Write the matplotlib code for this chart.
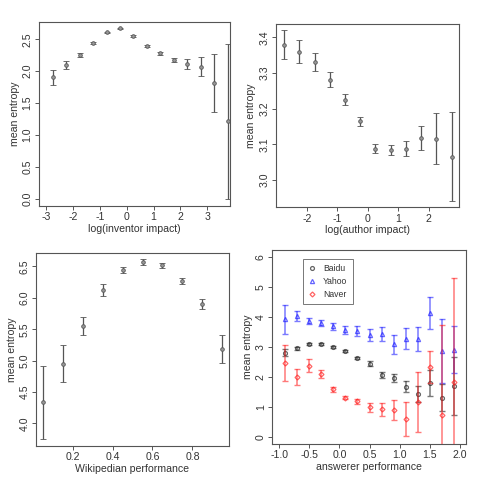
import matplotlib
matplotlib.use('Agg')
import matplotlib.pyplot as plt

plt.rcParams['font.family'] = ['Liberation Sans', 'DejaVu Sans']
plt.rcParams['axes.unicode_minus'] = False

# panel 1: inventor impact
x_inv = [-2.75, -2.25, -1.75, -1.25, -0.75, -0.25, 0.25, 0.75, 1.25, 1.75, 2.25, 2.75, 3.25, 3.75]
m_inv = [1.905, 2.10, 2.25, 2.44, 2.61, 2.67, 2.55, 2.395, 2.28, 2.17, 2.11, 2.07, 1.81, 1.21]
e_inv = [0.115, 0.06, 0.03, 0.012, 0.012, 0.012, 0.012, 0.012, 0.02, 0.03, 0.08, 0.15, 0.455, 1.22]

# panel 2: author impact
x_aut = [-2.75, -2.25, -1.75, -1.25, -0.75, -0.25, 0.25, 0.75, 1.25, 1.75, 2.25, 2.75]
m_aut = [3.380, 3.360, 3.330, 3.281, 3.225, 3.165, 3.088, 3.084, 3.087, 3.118, 3.116, 3.065]
e_aut = [0.041, 0.032, 0.025, 0.021, 0.015, 0.013, 0.013, 0.015, 0.021, 0.033, 0.072, 0.125]

# panel 3: wikipedian performance
x_wiki = [0.05, 0.15, 0.25, 0.35, 0.45, 0.55, 0.65, 0.75, 0.85, 0.95]
m_wiki = [4.335, 4.95, 5.545, 6.12, 6.44, 6.568, 6.52, 6.263, 5.90, 5.185]
e_wiki = [0.578, 0.293, 0.145, 0.098, 0.053, 0.042, 0.04, 0.046, 0.078, 0.216]

# panel 4: answerer performance
x_ans = [-0.9, -0.7, -0.5, -0.3, -0.1, 0.1, 0.3, 0.5, 0.7, 0.9, 1.1, 1.3, 1.5, 1.7, 1.9]
baidu_m = [2.81, 2.955, 3.11, 3.11, 2.99, 2.855, 2.64, 2.44, 2.06, 1.96, 1.67, 1.42, 1.80, 1.31, 1.68]
baidu_e = [0.125, 0.05, 0.04, 0.03, 0.03, 0.03, 0.04, 0.09, 0.095, 0.14, 0.19, 0.27, 0.44, 0.45, 0.97]
yahoo_m = [3.93, 4.04, 3.87, 3.80, 3.69, 3.56, 3.54, 3.41, 3.44, 3.09, 3.28, 3.27, 4.15, 2.87, 2.91]
yahoo_e = [0.485, 0.18, 0.115, 0.105, 0.115, 0.14, 0.155, 0.2, 0.23, 0.32, 0.345, 0.415, 0.54, 1.08, 0.78]
naver_m = [2.48, 2.0, 2.37, 2.10, 1.58, 1.30, 1.18, 0.98, 0.91, 0.88, 0.60, 1.15, 2.34, 0.71, 1.83]
naver_e = [0.605, 0.28, 0.215, 0.14, 0.095, 0.05, 0.085, 0.14, 0.205, 0.335, 0.565, 1.0, 0.535, 3.03, 3.47]

FS = 7.6
GRAY = '#555555'

fig = plt.figure(figsize=(4.8, 4.8), dpi=100)


def style(ax, xticks, yticks, xlabel, ylabel, xfmt, yfmt):
    for s in ax.spines.values():
        s.set_color(GRAY)
        s.set_linewidth(0.8)
    ax.set_xticks(xticks)
    ax.set_yticks(yticks)
    ax.set_xticklabels([xfmt % t for t in xticks])
    ax.set_yticklabels([yfmt % t for t in yticks], rotation=90, va='center')
    ax.tick_params(direction='out', length=3, width=0.7, color=GRAY, labelsize=FS,
                   labelcolor='#333333', pad=1.5)
    ax.set_xlabel(xlabel, fontsize=FS, color='#333333', labelpad=1)
    ax.set_ylabel(ylabel, fontsize=FS, color='#333333', labelpad=2)


def gray_errors(ax, x, m, e):
    ax.errorbar(x, m, yerr=e, fmt='o', color='#666666', ecolor='#555555', elinewidth=0.9,
                capsize=2, capthick=0.9, markersize=2.6, markerfacecolor='#999999',
                markeredgecolor='#555555', markeredgewidth=0.6)


ax1 = fig.add_axes([0.081, 0.571, 0.398, 0.383])
gray_errors(ax1, x_inv, m_inv, e_inv)
ax1.set_xlim(-3.27, 3.84)
ax1.set_ylim(-0.115, 2.77)
style(ax1, [-3, -2, -1, 0, 1, 2, 3], [0.0, 0.5, 1.0, 1.5, 2.0, 2.5],
      'log(inventor impact)', 'mean entropy', '%d', '%.1f')

ax2 = fig.add_axes([0.574, 0.568, 0.3825, 0.383])
gray_errors(ax2, x_aut, m_aut, e_aut)
ax2.set_xlim(-3.03, 2.995)
ax2.set_ylim(2.923, 3.439)
style(ax2, [-2, -1, 0, 1, 2], [3.0, 3.1, 3.2, 3.3, 3.4],
      'log(author impact)', 'mean entropy', '%d', '%.1f')

ax3 = fig.add_axes([0.075, 0.0708, 0.402, 0.403])
gray_errors(ax3, x_wiki, m_wiki, e_wiki)
ax3.set_xlim(0.0165, 0.983)
ax3.set_ylim(3.64, 6.72)
style(ax3, [0.2, 0.4, 0.6, 0.8], [4.0, 4.5, 5.0, 5.5, 6.0, 6.5],
      'Wikipedian performance', 'mean entropy', '%.1f', '%.1f')

ax4 = fig.add_axes([0.567, 0.075, 0.403, 0.404])
series = [
    ('Baidu', baidu_m, baidu_e, '#222222', 'o', 2.8),
    ('Yahoo', yahoo_m, yahoo_e, '#2222ff', '^', 3.0),
    ('Naver', naver_m, naver_e, '#ff2222', 'D', 2.5),
]
for name, m, e, c, mk, ms in series:
    ax4.errorbar(x_ans, m, yerr=e, fmt='none', ecolor=c, alpha=0.6, elinewidth=1.1,
                 capsize=2.2, capthick=1.0)
    ax4.plot(x_ans, m, ls='none', marker=mk, markersize=ms,
             markerfacecolor='none', markeredgecolor=c, markeredgewidth=0.9, alpha=0.7,
             label=name)
ax4.set_xlim(-1.116, 2.094)
ax4.set_ylim(-0.245, 6.245)
style(ax4, [-1.0, -0.5, 0.0, 0.5, 1.0, 1.5, 2.0], [0, 1, 2, 3, 4, 5, 6],
      'answerer performance', 'mean entropy', '%.1f', '%d')
leg = ax4.legend(loc='upper left', bbox_to_anchor=(0.157, 0.954), borderaxespad=0,
                 fontsize=6.2, frameon=True, fancybox=False, handlelength=1.0,
                 handletextpad=0.8, labelspacing=0.45, borderpad=0.6)
leg.get_frame().set_edgecolor(GRAY)
leg.get_frame().set_linewidth(0.7)
for t in leg.get_texts():
    t.set_color('#333333')

fig.savefig('out.png', dpi=100)
